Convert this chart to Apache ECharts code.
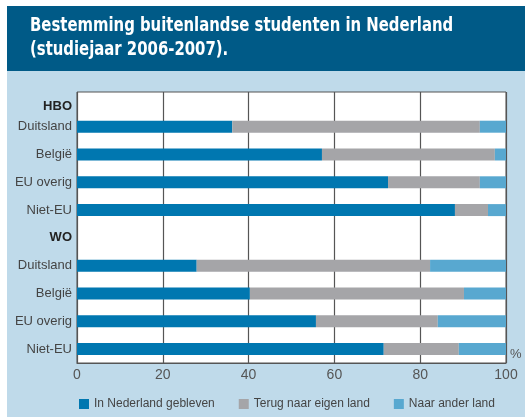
<!DOCTYPE html>
<html>
<head>
<meta charset="utf-8">
<script src="https://cdn.jsdelivr.net/npm/echarts@6/dist/echarts.min.js"></script>
<style>
  html, body { margin: 0; padding: 0; background: #fff; }
  #main { width: 525px; height: 417px; }
</style>
</head>
<body>
<div id="main"></div>
<script>
// rijen van boven naar beneden (HBO / WO zijn kopjes zonder balk)
var rows = ['HBO', 'Duitsland', 'België', 'EU overig', 'Niet-EU', 'WO', 'Duitsland', 'België', 'EU overig', 'Niet-EU'];
var seriesNames = ['In Nederland gebleven', 'Terug naar eigen land', 'Naar ander land'];
// percentages per rij
var gebleven = ['-', 36.2, 57.1, 72.5, 88.1, '-', 27.9, 40.3, 55.7, 71.5];
var terug = ['-', 57.7, 40.3, 21.4, 7.7, '-', 54.4, 49.9, 28.4, 17.5];
var ander = ['-', 6.1, 2.6, 6.1, 4.2, '-', 17.7, 9.8, 15.9, 11.0];
var xTicks = [0, 20, 40, 60, 80, 100];

var colors = ['#0077b0', '#a5a5a8', '#58a8d0'];
var txtFont = 'Liberation Sans';

var myChart = echarts.init(document.getElementById('main'));

var option = {
  animation: false,
  color: colors,
  graphic: [
    { type: 'rect', z: -10, shape: { x: 7, y: 6, width: 518, height: 65 }, style: { fill: '#005a87' } },
    { type: 'rect', z: -10, shape: { x: 7, y: 71, width: 518, height: 346 }, style: { fill: '#bfdaea' } },
    // titel, smal gezet zoals het origineel
    {
      type: 'text', x: 30, y: 14, scaleX: 0.87,
      style: {
        text: 'Bestemming buitenlandse studenten in Nederland\n(studiejaar 2006-2007).',
        fill: '#fff',
        font: 'bold 19px "DejaVu Sans Condensed", "Liberation Sans"',
        lineHeight: 24
      }
    }
  ],
  legend: {
    left: 74,
    top: 393,
    icon: 'rect',
    itemWidth: 10,
    itemHeight: 10,
    itemGap: 24,
    textStyle: { color: '#444', fontFamily: txtFont, fontSize: 12 },
    data: seriesNames
  },
  grid: [
    // balken (band bovenaan loopt iets buiten het kader)
    { left: 77, right: 19, top: 85, bottom: 54 },
    // kader met rasterlijnen
    { left: 77, right: 19, top: 92, bottom: 54, show: true, backgroundColor: '#fff', borderColor: '#555', borderWidth: 1 }
  ],
  xAxis: [
    { gridIndex: 0, type: 'value', min: 0, max: 100, show: false },
    {
      gridIndex: 1, type: 'value', min: xTicks[0], max: xTicks[xTicks.length - 1], interval: 20,
      name: '%', nameLocation: 'end', nameGap: 4,
      nameTextStyle: { color: '#555', fontFamily: txtFont, fontSize: 13, align: 'left', verticalAlign: 'bottom', padding: [0, 0, 2, 0] },
      axisLine: { show: true, lineStyle: { color: '#555', width: 1.2 } },
      axisTick: { show: false },
      axisLabel: { color: '#555', fontFamily: txtFont, fontSize: 14, margin: 5 },
      splitLine: { show: true, lineStyle: { color: '#555', width: 1.2 } }
    }
  ],
  yAxis: [
    {
      gridIndex: 0, type: 'category', inverse: true, data: rows,
      axisLine: { show: false },
      axisTick: { show: false },
      axisLabel: {
        color: '#444', fontFamily: txtFont, fontSize: 13, margin: 5,
        formatter: function (v) {
          if (v === 'HBO') return '{h|' + v + '}';
          if (v === 'WO') return '{b|' + v + '}';
          return v;
        },
        rich: {
          h: { fontWeight: 'bold', color: '#222', fontFamily: txtFont, fontSize: 13, padding: [16, 0, 0, 0] },
          b: { fontWeight: 'bold', color: '#222', fontFamily: txtFont, fontSize: 13 }
        }
      }
    },
    { gridIndex: 1, type: 'value', show: false }
  ],
  series: [
    { name: seriesNames[0], type: 'bar', stack: 'totaal', barWidth: 12, xAxisIndex: 0, yAxisIndex: 0, data: gebleven },
    { name: seriesNames[1], type: 'bar', stack: 'totaal', barWidth: 12, xAxisIndex: 0, yAxisIndex: 0, data: terug },
    { name: seriesNames[2], type: 'bar', stack: 'totaal', barWidth: 12, xAxisIndex: 0, yAxisIndex: 0, data: ander }
  ]
};

myChart.setOption(option);
</script>
</body>
</html>
